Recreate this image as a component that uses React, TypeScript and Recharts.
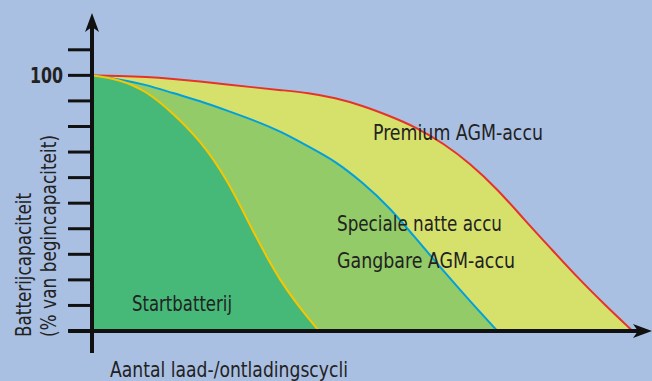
import { Area, ComposedChart, ReferenceLine, XAxis, YAxis } from 'recharts';

// cycle position (relative, 0..100) and remaining capacity in %
const cycles = [0, 5, 10, 15, 20, 25, 30, 35, 40, 42, 45, 50, 55, 60, 65, 70, 75, 80, 85, 90, 95, 100];
const startbatterij = [100, 98.5, 94, 85.2, 74.6, 59.5, 38, 18.5, 5, 0, null, null, null, null, null, null, null, null, null, null, null, null];
const natteAccu = [100, 98.5, 96.4, 93, 90, 86.2, 82.4, 78, 72.2, null, 66.5, 58.2, 48.5, 36, 23.5, 11.5, 0, null, null, null, null, null];
const premiumAgm = [100, 99.8, 99.4, 98.6, 97.6, 96.4, 95.3, 94.2, 93.2, null, 91.2, 88.2, 84.2, 79.7, 73.4, 65.5, 55.5, 43.5, 32, 20.5, 10, 0];
const yTicks = [0, 10, 20, 30, 40, 50, 60, 70, 80, 90, 100, 110];

const data = cycles.map((c, i) => ({
  cycles: c,
  start: startbatterij[i],
  natte: natteAccu[i],
  premium: premiumAgm[i],
}));

const BG = '#aac0e3';
const INK = '#222';
const FONT = "'DejaVu Sans Condensed', 'Liberation Sans Narrow', sans-serif";

function Arrow(props: any) {
  const { x1, y1, x2, y2 } = props;
  const dx = x2 - x1;
  const dy = y2 - y1;
  const len = Math.hypot(dx, dy) || 1;
  const ux = dx / len;
  const uy = dy / len;
  const head = 19;
  const half = 7;
  const bx = x2 - ux * head;
  const by = y2 - uy * head;
  const pts = `${x2},${y2} ${bx - uy * half},${by + ux * half} ${x2 - ux * (head - 5)},${y2 - uy * (head - 5)} ${bx + uy * half},${by - ux * half}`;
  return (
    <g>
      <line x1={x1} y1={y1} x2={x2 - ux * 8} y2={y2 - uy * 8} stroke="#111" strokeWidth={4} />
      <polygon points={pts} fill="#111" />
    </g>
  );
}

function YTick(props: any) {
  const { x, y, payload } = props;
  if (payload.value !== 100) return <g />;
  return (
    <text
      x={x - 36}
      y={y}
      dy={7.5}
      fontFamily={FONT}
      fontWeight="bold"
      fontSize={21}
      fill={INK}
      textLength={33}
      lengthAdjust="spacingAndGlyphs"
    >
      100
    </text>
  );
}

export default function App() {
  const label = { fontFamily: FONT, fontSize: 22, fill: INK, lengthAdjust: 'spacingAndGlyphs' } as const;
  return (
    <div style={{ position: 'absolute', left: 0, top: 0, width: 652, height: 381, background: BG }}>
      <ComposedChart width={652} height={381} data={data} margin={{ top: 14, right: 0, bottom: 50, left: 0 }}>
        <XAxis type="number" dataKey="cycles" domain={[0, 103.6]} hide />
        <YAxis
          type="number"
          domain={[0, 124]}
          ticks={yTicks}
          width={92}
          axisLine={false}
          tickLine={{ stroke: '#111', strokeWidth: 3 }}
          tickSize={24}
          tick={YTick}
          interval={0}
        />
        <Area
          type="basis"
          dataKey="premium"
          stroke="#e6332a"
          strokeWidth={2}
          fill="#d6e16c"
          fillOpacity={1}
          connectNulls
          isAnimationActive={false}
        />
        <Area
          type="basis"
          dataKey="natte"
          stroke="#00a0dc"
          strokeWidth={2}
          fill="#92cb67"
          fillOpacity={1}
          connectNulls
          isAnimationActive={false}
        />
        <Area
          type="basis"
          dataKey="start"
          stroke="#f7c600"
          strokeWidth={2}
          fill="#46b978"
          fillOpacity={1}
          isAnimationActive={false}
        />
        <ReferenceLine
          segment={[{ x: -4.4, y: 0 }, { x: 103.6, y: 0 }]}
          ifOverflow="visible"
          shape={Arrow}
        />
        <ReferenceLine
          segment={[{ x: 0, y: -8.6 }, { x: 0, y: 124.4 }]}
          ifOverflow="visible"
          shape={Arrow}
        />
      </ComposedChart>
      <svg width={652} height={381} style={{ position: 'absolute', left: 0, top: 0, pointerEvents: 'none' }}>
        <text x={132} y={310.5} textLength={100} {...label}>Startbatterij</text>
        <text x={373} y={140} textLength={170} {...label}>Premium AGM-accu</text>
        <text x={337} y={230.5} textLength={165} {...label}>Speciale natte accu</text>
        <text x={337} y={268} textLength={178} {...label}>Gangbare AGM-accu</text>
        <text x={110} y={377} textLength={238} {...label}>Aantal laad-/ontladingscycli</text>
        <text transform="translate(31,337) rotate(-90)" textLength={144} {...label}>Batterijcapaciteit</text>
        <text transform="translate(55.5,337) rotate(-90)" textLength={202} {...label}>(% van begincapaciteit)</text>
      </svg>
    </div>
  );
}
